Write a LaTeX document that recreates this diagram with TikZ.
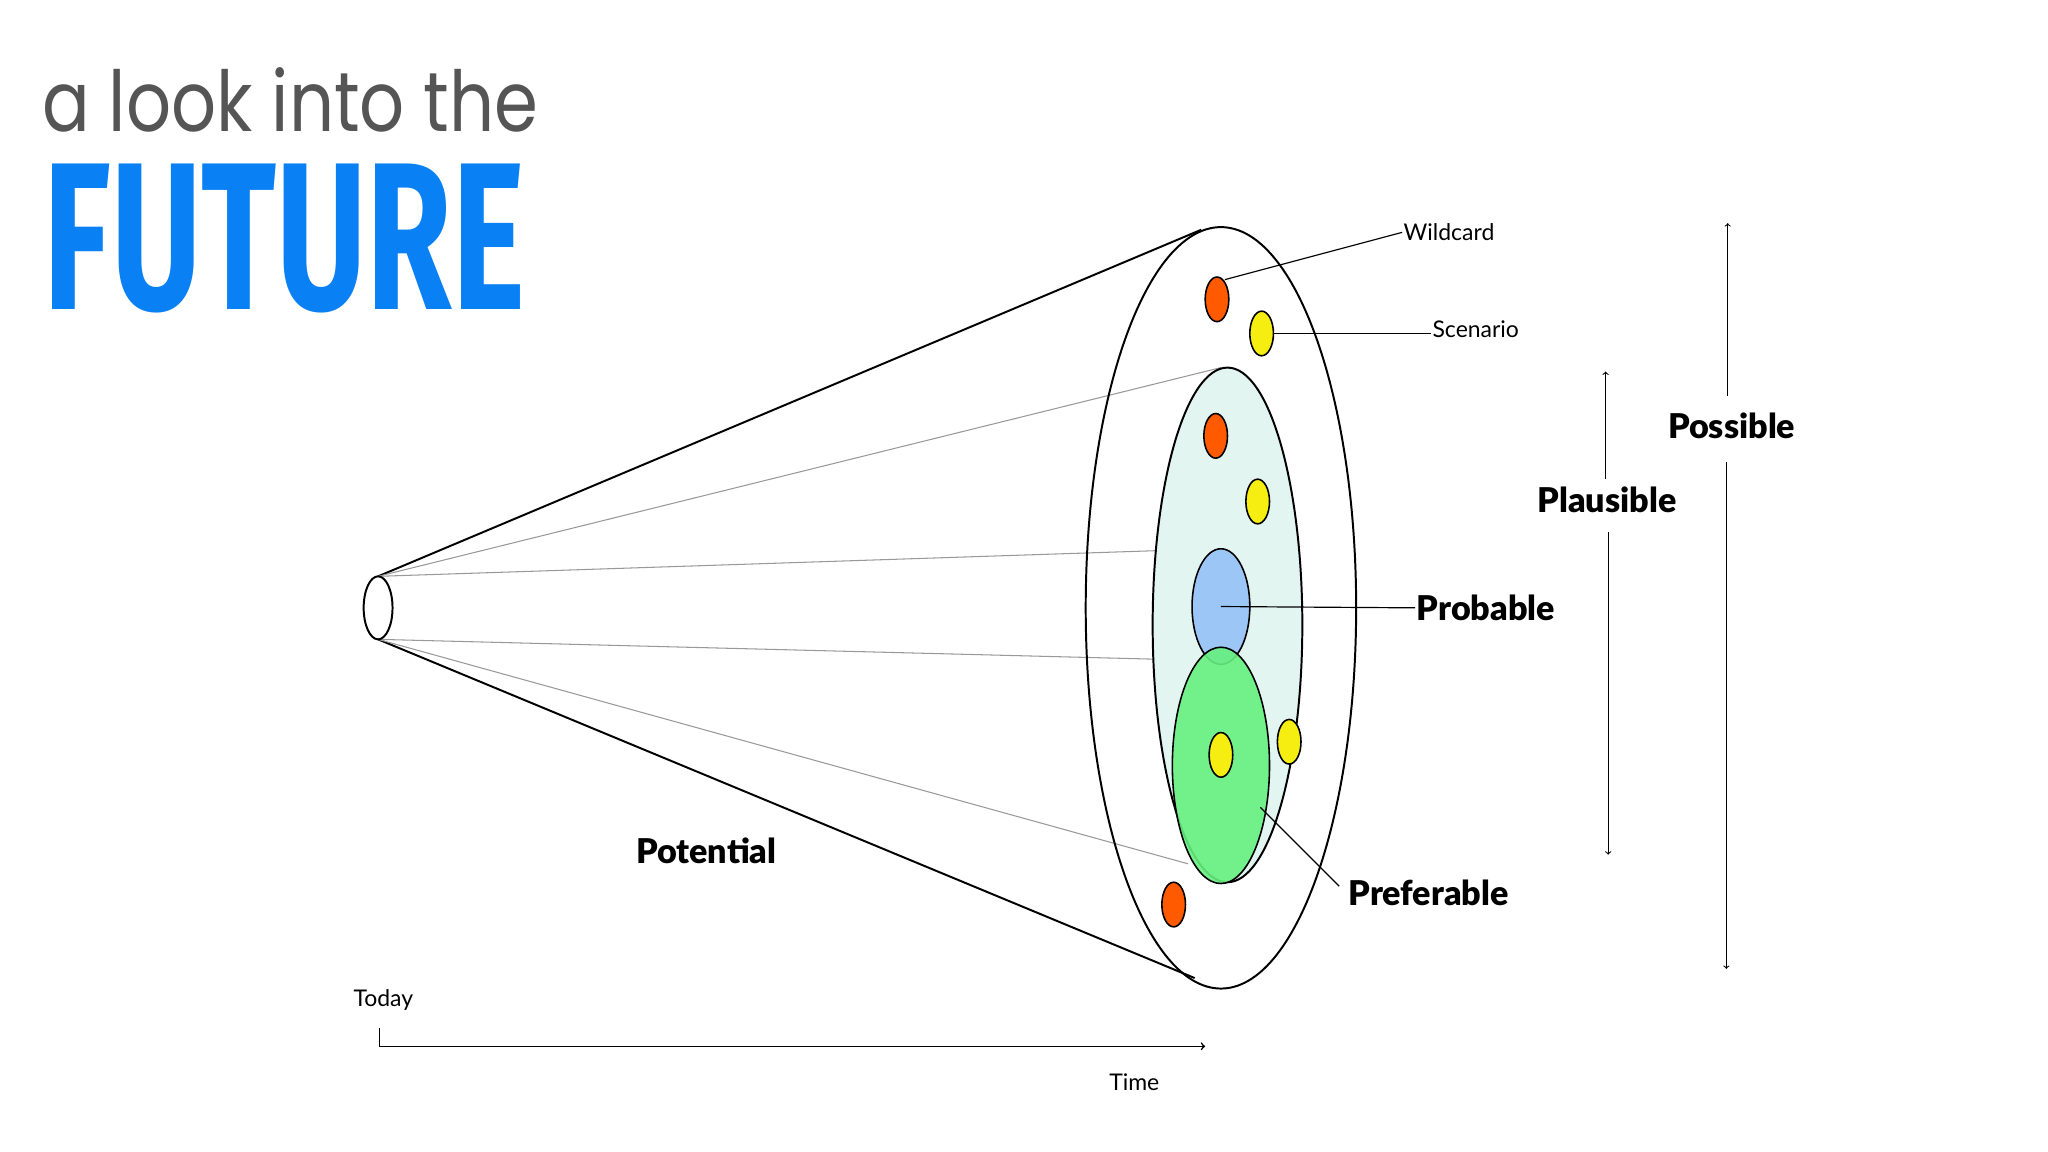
\documentclass[tikz,border=0pt]{standalone}
\usepackage{fontspec}
\setmainfont{Lato}
\newfontfamily\titlefont{Poppins}
\newfontfamily\futfont{Fira Sans}
\newfontfamily\heavyfont{Lato Black}
\definecolor{fblue}{HTML}{0A80F5}
\definecolor{tgray}{HTML}{555555}
\definecolor{dred}{HTML}{FF5A00}
\definecolor{dyel}{HTML}{F5EE10}
\definecolor{pcyan}{HTML}{E2F5F1}
\definecolor{pblue}{HTML}{9CC6F5}
\definecolor{pgreen}{HTML}{66F07F}
\usetikzlibrary{shapes.geometric}
\begin{document}
\begin{tikzpicture}[x=1pt,y=-1pt,
  rim/.style={draw=black,line width=1.5pt},
  thin/.style={draw=gray!80,line width=0.8pt},
  dot/.style={ellipse,minimum width=18pt,minimum height=34pt,inner sep=0pt,draw=black,line width=1.2pt},
  small/.style={font=\fontsize{17.5}{19}\selectfont,inner sep=1pt},
  big/.style={font=\heavyfont\fontsize{26}{29}\selectfont,inner sep=1pt},
  lead/.style={draw=black,line width=0.9pt}]
\useasboundingbox[fill=white] (0,0) rectangle (1560,877.5);
\node[anchor=base west,text=tgray,inner sep=0] (t1) at (32,100) {\titlefont\fontsize{64}{70}\selectfont\scalebox{0.84}[1]{a look into the}};
\node[anchor=base west,text=fblue,inner sep=0] (t2) at (33,236) {\futfont\bfseries\fontsize{160}{170}\selectfont\scalebox{0.66}[1]{FUTURE}};
% cone
\draw[rim] (288,439) -- (915,175);
\draw[rim] (288,487) -- (910,745);
\draw[thin] (288,439) -- (930,280);
\draw[thin] (288,439) -- (925,418);
\draw[thin] (288,487) -- (915,503);
\draw[thin] (288,487) -- (905,658);
\draw[rim,fill=white] (288,463) ellipse [x radius=11,y radius=24];
\draw[rim] (930,463) ellipse [x radius=103,y radius=290];
\draw[rim,fill=pcyan] (935,476) ellipse [x radius=57,y radius=196];
\node[ellipse,draw,line width=1.2pt,fill=pblue,minimum width=44pt,minimum height=88pt,inner sep=0] (prob) at (930,462) {};
\node[ellipse,draw,line width=1.2pt,fill=pgreen,fill opacity=0.9,minimum width=74pt,minimum height=180pt,inner sep=0] (pref) at (930,583) {};
\node[dot,fill=dred] (d1) at (927,228) {};
\node[dot,fill=dyel] (d2) at (961,254) {};
\node[dot,fill=dred] (d3) at (926,332) {};
\node[dot,fill=dyel] (d4) at (958,382) {};
\node[dot,fill=dyel] (d5) at (930,575) {};
\node[dot,fill=dyel] (d6) at (982,565) {};
\node[dot,fill=dred] (d7) at (894,689) {};
% labels
\node[small,anchor=west] (wild) at (1068,177) {Wildcard};
\node[small,anchor=west] (scen) at (1090,251) {Scenario};
\node[big,anchor=west] (lprob) at (1078,463) {Probable};
\node[big,anchor=west] (lpref) at (1026,680) {Preferable};
\draw[lead] (933,213) -- (wild.west);
\draw[lead] (d2.east) -- (d2.east -| scen.west);
\draw[lead] (prob.center) -- (lprob.west);
\draw[lead] (960,615) -- (1020,675);
\node[big] (lpla) at (1224,381) {Plausible};
\node[big] (lpos) at (1319,324) {Possible};
\draw[->,line width=0.8pt] (1223,365) -- (1223,283);
\draw[->,line width=0.8pt] (1225,405) -- (1225,651);
\draw[->,line width=0.8pt] (1316,302) -- (1316,170);
\draw[->,line width=0.8pt] (1315,352) -- (1315,738);
\node[big] (lpot) at (538,648) {Potential};
\node[small] (today) at (292,762) {Today};
\node[small] (time) at (864,824) {Time};
\coordinate (c1) at (289,783);
\coordinate (c2) at (918,797);
\draw[->,line width=1.2pt] (c1) |- (c2);
\end{tikzpicture}
\end{document}
